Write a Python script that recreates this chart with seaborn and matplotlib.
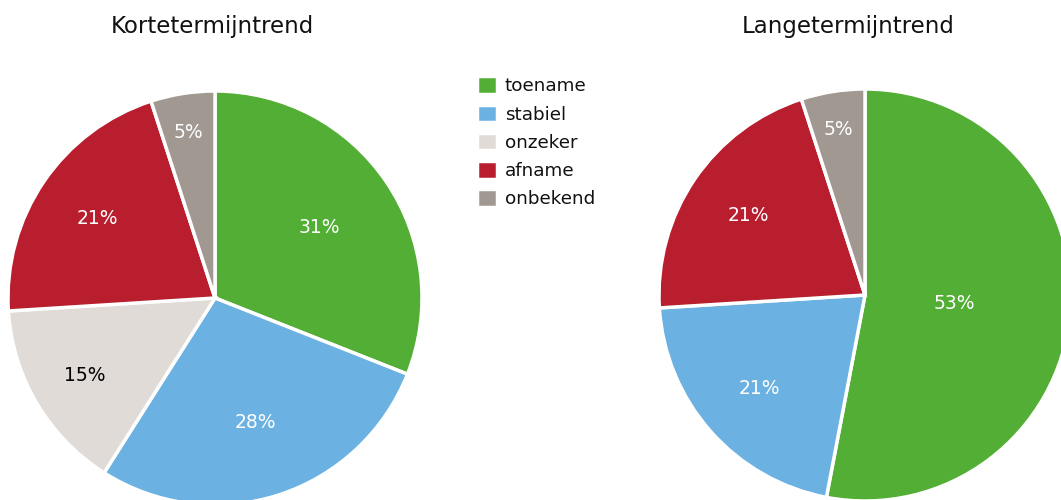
import numpy as np
import matplotlib.pyplot as plt
import seaborn as sns

# Trend categories and shares (%)
categories = ["toename", "stabiel", "onzeker", "afname", "onbekend"]
colors = ["#52ae34", "#6bb1e1", "#e0dbd7", "#b81e2d", "#a09891"]
label_colors = ["white", "white", "black", "white", "white"]

short_term = [31, 28, 15, 21, 5]
long_term = [53, 21, 0, 21, 5]

titles = ["Kortetermijntrend", "Langetermijntrend"]

sns.set_theme(style="white")
plt.rcParams['font.family'] = ['DejaVu Sans']

W, H = 1061, 500
fig = plt.figure(figsize=(W / 100, H / 100), dpi=100)


def draw_pie(values, cx, cy, r):
    # cx, cy in pixels from top-left
    ax = fig.add_axes([(cx - r) / W, (H - cy - r) / H, 2 * r / W, 2 * r / H])
    keep = [i for i, v in enumerate(values) if v > 0]
    vals = [values[i] for i in keep]
    wedges, texts = ax.pie(
        vals,
        labels=[f"{values[i]}%" for i in keep],
        colors=[colors[i] for i in keep],
        startangle=90,
        counterclock=False,
        labeldistance=0.6,
        wedgeprops=dict(edgecolor="white", linewidth=2.5),
        textprops=dict(fontsize=13.5),
    )
    for w, t, i in zip(wedges, texts, keep):
        # smaller slices get their label further out
        dist = 0.85 - 0.0078 * values[i]
        ang = np.deg2rad((w.theta1 + w.theta2) / 2)
        t.set_position((dist * np.cos(ang), dist * np.sin(ang)))
        t.set_color(label_colors[i])
        t.set_ha("center")
        t.set_va("center")
    ax.set_xlim(-1, 1)
    ax.set_ylim(-1, 1)
    ax.set_aspect("equal")
    ax.axis("off")
    return ax, wedges


ax1, w1 = draw_pie(short_term, 215, 298, 207)
ax2, w2 = draw_pie(long_term, 865, 295, 206)

fig.text(212 / W, 1 - 27 / H, titles[0], ha="center", va="center", fontsize=16.5, color="#111111")
fig.text(848 / W, 1 - 27 / H, titles[1], ha="center", va="center", fontsize=16.5, color="#111111")

fig.legend(
    w1, categories,
    loc="upper left",
    bbox_to_anchor=(470 / W, 1 - 69 / H),
    frameon=False,
    fontsize=13.2,
    handlelength=1.05,
    handleheight=1.1,
    handletextpad=0.45,
    labelspacing=0.5,
    borderaxespad=0,
    labelcolor="#111111",
)

fig.savefig("out.png", dpi=100)
